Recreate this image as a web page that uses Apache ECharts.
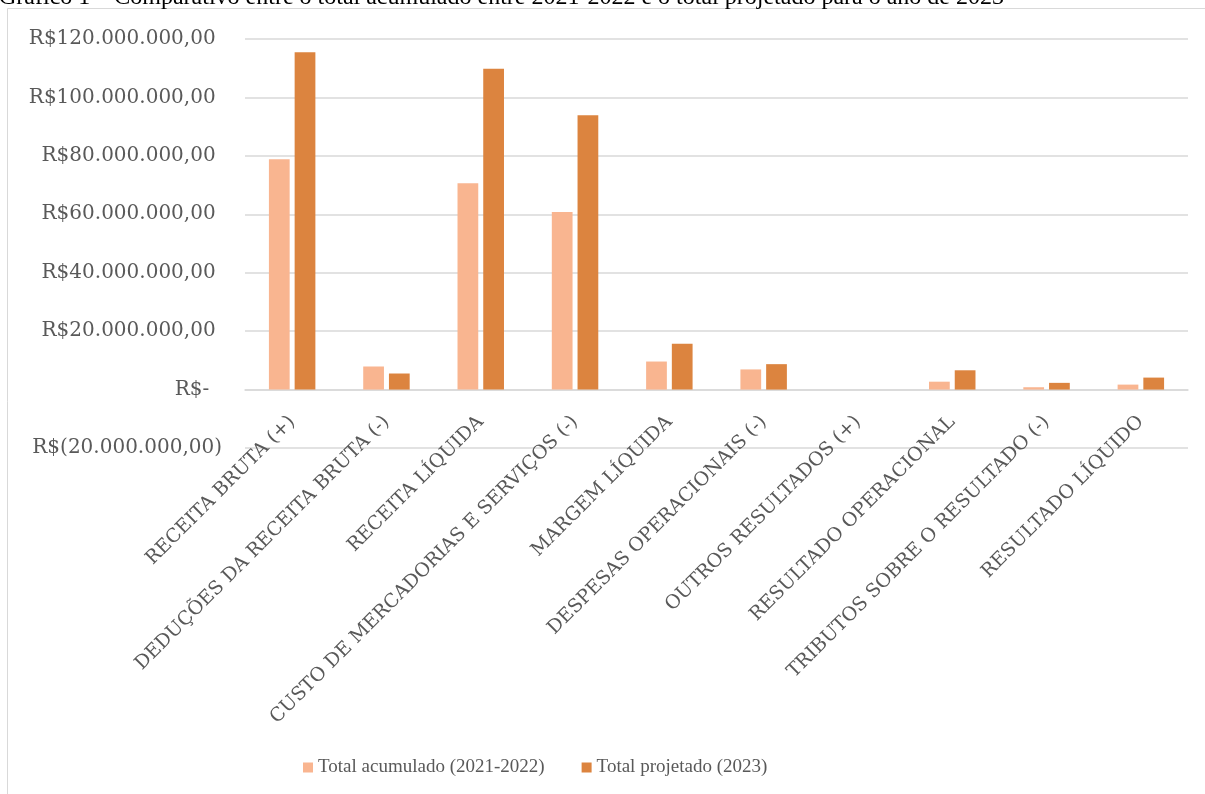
<!DOCTYPE html>
<html>
<head>
<meta charset="utf-8">
<script src="https://cdn.jsdelivr.net/npm/echarts@6/dist/echarts.min.js"></script>
<style>
html,body{margin:0;padding:0;background:#fff;}
#chart{width:1205px;height:794px;}
</style>
</head>
<body>
<div id="chart"></div>
<script>
const titleText = 'Gráfico 1 – Comparativo entre o total acumulado entre 2021-2022 e o total projetado para o ano de 2023';
const categories = [
  'RECEITA BRUTA (+)',
  'DEDUÇÕES DA RECEITA BRUTA (-)',
  'RECEITA LÍQUIDA',
  'CUSTO DE MERCADORIAS E SERVIÇOS (-)',
  'MARGEM LÍQUIDA',
  'DESPESAS OPERACIONAIS (-)',
  'OUTROS RESULTADOS (+)',
  'RESULTADO OPERACIONAL',
  'TRIBUTOS SOBRE O RESULTADO (-)',
  'RESULTADO LÍQUIDO'
];
const seriesNames = ['Total acumulado (2021-2022)', 'Total projetado (2023)'];
const acumulado = [78800000, 7900000, 70600000, 60800000, 9600000, 6900000, 0, 2700000, 800000, 1700000];
const projetado = [115500000, 5500000, 109800000, 93900000, 15700000, 8700000, 0, 6600000, 2300000, 4100000];
const yMin = -20000000, yMax = 120000000, yStep = 20000000;

function fmtBR(v) {
  const a = Math.abs(v);
  const s = a.toFixed(2).split('.');
  const intPart = s[0].replace(/\B(?=(\d{3})+(?!\d))/g, '.');
  return intPart + ',' + s[1];
}
function yLabel(v) {
  if (v === 0) return 'R$-  ';
  if (v < 0) return 'R$(' + fmtBR(v) + ')';
  return 'R$' + fmtBR(v) + ' ';
}

const chart = echarts.init(document.getElementById('chart'), null, {renderer: 'canvas'});
const grey = '#595959';
chart.setOption({
  backgroundColor: '#ffffff',
  animation: false,
  graphic: [
    {type: 'rect', z: -10, shape: {x: 7.5, y: 8.5, width: 1300, height: 900}, style: {fill: 'none', stroke: '#d9d9d9', lineWidth: 1}},
    {type: 'text', left: -1, top: -14, style: {text: titleText, font: '24px "Liberation Serif", serif', fill: '#000'}}
  ],
  grid: {left: 245, right: 17, top: 39, bottom: 346, containLabel: false},
  legend: {
    data: seriesNames,
    left: 298, top: 753,
    icon: 'rect', itemWidth: 10, itemHeight: 10, itemGap: 37,
    textStyle: {fontFamily: '"Liberation Serif", serif', fontSize: 19, color: grey}
  },
  xAxis: {
    type: 'category',
    data: categories,
    axisLine: {onZero: true, lineStyle: {color: '#d9d9d9', width: 1.5}},
    axisTick: {show: false},
    axisLabel: {rotate: 45, interval: 0, margin: -29, fontFamily: '"DejaVu Serif", serif', fontSize: 19, color: grey}
  },
  yAxis: {
    type: 'value',
    min: yMin, max: yMax, interval: yStep,
    axisLine: {show: false},
    axisTick: {show: false},
    splitLine: {lineStyle: {color: '#d9d9d9', width: 1.5}},
    axisLabel: {margin: 23, formatter: yLabel, fontFamily: '"DejaVu Serif", serif', fontSize: 20, color: grey}
  },
  series: [
    {name: seriesNames[0], type: 'bar', data: acumulado, barWidth: '22%', barGap: '24%',
     itemStyle: {color: '#F9B590'}},
    {name: seriesNames[1], type: 'bar', data: projetado, barWidth: '22%', barGap: '24%',
     itemStyle: {color: '#DC843F'}}
  ]
});
</script>
</body>
</html>
